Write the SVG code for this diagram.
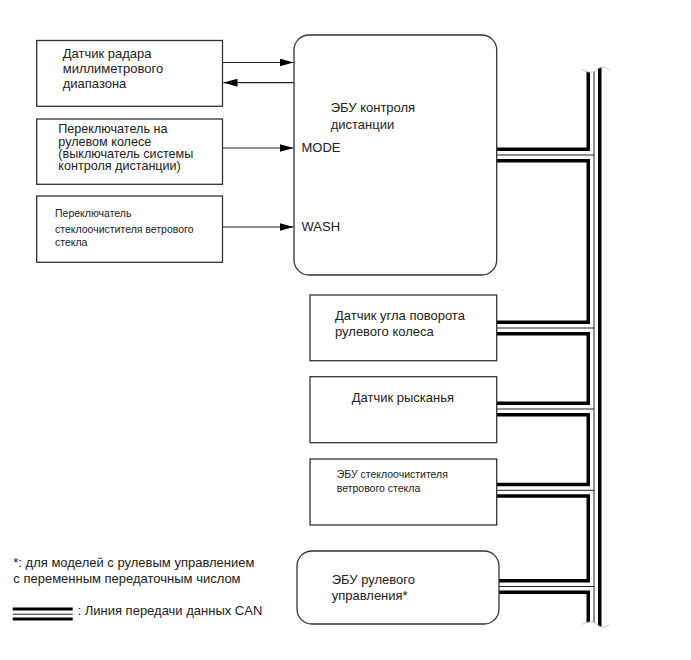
<svg xmlns="http://www.w3.org/2000/svg" width="691" height="660" viewBox="0 0 691 660">
<defs>
<style>
.box{fill:#fff;stroke:#333;stroke-width:1.3}
.t{font-family:"Liberation Sans",Arial,sans-serif;font-size:13px;fill:#222}
.t2{font-family:"Liberation Sans",Arial,sans-serif;font-size:12.6px;fill:#222}
.s{font-family:"Liberation Sans",Arial,sans-serif;font-size:10.5px;fill:#222}
.ln{stroke:#222;stroke-width:1.2;fill:none}
.cb{stroke:#000;stroke-width:15;fill:none;stroke-linejoin:miter}
.cw{stroke:#fff;stroke-width:8;fill:none}
.ct{stroke:#222;stroke-width:1;fill:none}
</style>
<marker id="ah" viewBox="0 0 14 8" refX="14" refY="4" markerWidth="14" markerHeight="8" markerUnits="userSpaceOnUse" orient="auto">
<path d="M0,0 L14,4 L0,8 Z" fill="#000"/>
</marker>
</defs>
<rect width="691" height="660" fill="#fff"/>

<g id="connectors">
<line class="ln" x1="223" y1="62.5" x2="293.5" y2="62.5" marker-end="url(#ah)"/>
<line class="ln" x1="293.5" y1="82.7" x2="223.5" y2="82.7" marker-end="url(#ah)"/>
<line class="ln" x1="223" y1="148" x2="293.5" y2="148" marker-end="url(#ah)"/>
<line class="ln" x1="223" y1="227" x2="293.5" y2="227" marker-end="url(#ah)"/>
<g id="can-bus">
<path class="cb" d="M594,64 V630 M497,155 H594 M497,328 H594 M497,409 H594 M497,490.3 H594 M499,586.5 H594"/>
<path class="cw" d="M594,64 V630 M497,155 H594 M497,328 H594 M497,409 H594 M497,490.3 H594 M499,586.5 H594"/>
<path class="ct" d="M594,64 V630 M497,155 H594 M497,328 H594 M497,409 H594 M497,490.3 H594 M499,586.5 H594"/>
<path d="M580,55 H609 V70 C605,66 601,66 597,69.5 C593,73 588,73 582,69.5 Z" fill="#fff"/>
<path d="M582,69.5 C588,73 593,73 597,69.5 C601,66 605,66 609,70" fill="none" stroke="#bbb" stroke-width="0.8"/>
<path d="M580,640 H609 V624 C605,628 601,628 597,624.5 C593,621 588,621 582,624.5 Z" fill="#fff"/>
<path d="M582,624.5 C588,621 593,621 597,624.5 C601,628 605,628 609,624" fill="none" stroke="#bbb" stroke-width="0.8"/>
</g>
</g>

<g id="radar-sensor">
<rect class="box" x="36.7" y="40.5" width="185.8" height="65.8"/>
<text class="t" x="62.7" y="57.7">Датчик радара</text>
<text class="t" x="62.7" y="72.5">миллиметрового</text>
<text class="t" x="62.7" y="88">диапазона</text>
</g>

<g id="steering-switch">
<rect class="box" x="36.7" y="119" width="185.8" height="65.3"/>
<text class="t2" x="58.3" y="133.3">Переключатель на</text>
<text class="t2" x="58.3" y="145.6">рулевом колесе</text>
<text class="t2" x="58.3" y="158">(выключатель системы</text>
<text class="t2" x="58.3" y="170.4">контроля дистанции)</text>
</g>

<g id="wiper-switch">
<rect class="box" x="36.7" y="196" width="185.8" height="66.3"/>
<text class="s" x="55" y="217.3">Переключатель</text>
<text class="s" x="55" y="232.5">стеклоочистителя ветрового</text>
<text class="s" x="55" y="245.5">стекла</text>
</g>

<g id="distance-ecu">
<rect class="box" x="294" y="35" width="202.7" height="240" rx="15" ry="15"/>
<text class="t" x="330.7" y="112">ЭБУ контроля</text>
<text class="t" x="330.7" y="128.5">дистанции</text>
<text class="t" x="301.5" y="152">MODE</text>
<text class="t" x="301.5" y="230.5">WASH</text>
</g>

<g id="steering-angle-sensor">
<rect class="box" x="310" y="295" width="186.7" height="65.7"/>
<text class="t" x="335" y="320">Датчик угла поворота</text>
<text class="t" x="335" y="336">рулевого колеса</text>
</g>

<g id="yaw-sensor">
<rect class="box" x="310" y="376.7" width="186.7" height="66"/>
<text class="t" x="351.7" y="401.7">Датчик рысканья</text>
</g>

<g id="wiper-ecu">
<rect class="box" x="310" y="459" width="186.7" height="66"/>
<text class="s" x="336.7" y="478.3">ЭБУ стеклоочистителя</text>
<text class="s" x="336.7" y="492">ветрового стекла</text>
</g>

<g id="steering-ecu">
<rect class="box" x="297" y="551" width="202" height="73" rx="15" ry="15"/>
<text class="t" x="331.7" y="584">ЭБУ рулевого</text>
<text class="t" x="331.7" y="600">управления*</text>
</g>

<g id="legend">
<text class="t" x="13.3" y="566.7">*: для моделей с рулевым управлением</text>
<text class="t" x="13.3" y="583.3">с переменным передаточным числом</text>
<line x1="12.7" y1="609" x2="72.7" y2="609" stroke="#000" stroke-width="3"/>
<line x1="12.7" y1="614.2" x2="72.7" y2="614.2" stroke="#222" stroke-width="1"/>
<line x1="12.7" y1="619" x2="72.7" y2="619" stroke="#000" stroke-width="3"/>
<text class="t" x="77.5" y="615">: Линия передачи данных CAN</text>
</g>
</svg>
